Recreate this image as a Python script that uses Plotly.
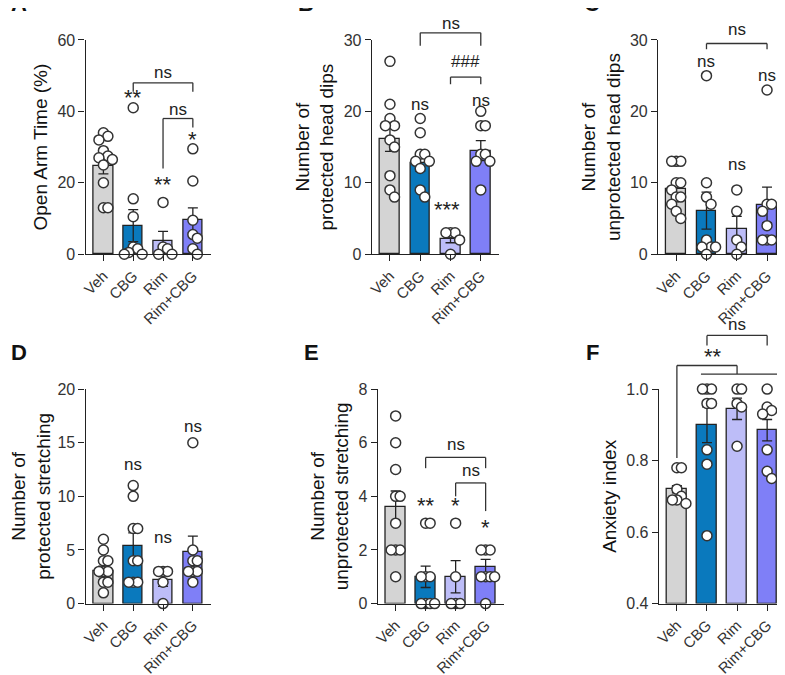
import plotly.graph_objects as go

groups = ["Veh", "CBG", "Rim", "Rim+CBG"]
colors = ["#d4d4d4", "#0a79bd", "#bdbdf8", "#7f7ff7"]

a_pts = [[34, 33, 32, 29, 27.5, 27, 26.5, 25, 20, 13, 13], [41, 15.5, 10.5, 2, 1.5, 0.5, 0, 0], [14.5, 2, 1.5, 0, 0], [29.5, 20.5, 9.5, 5.5, 4.5, 1.5, 0]]
a_mean = [24.7, 8.0, 3.6, 9.5]; a_sem = [2.2, 4.5, 2.8, 3.5]
b_pts = [[27, 21, 19, 18, 18, 16, 15, 11, 9, 8], [19, 17, 14, 14, 13, 13, 12, 9, 8], [3, 3, 3, 2, 0], [20, 18, 18, 14, 14, 13, 13, 9]]
b_mean = [16.2, 12.8, 2.2, 14.5]; b_sem = [1.8, 1.2, 0.6, 1.4]
c_pts = [[13, 13, 13, 10, 10, 9, 8, 8, 7, 6, 5], [25, 10, 8, 7, 2, 1, 1, 1, 0], [9, 6, 2, 1, 0], [23, 7, 7, 6, 4, 2, 2, 2]]
c_mean = [9.2, 6.1, 3.6, 6.9]; c_sem = [0.8, 2.6, 1.7, 2.5]
d_pts = [[6, 5, 4, 4, 3, 3, 3, 2, 2, 1], [11, 10, 7, 7, 4, 4, 2, 2, 2], [3, 3, 3, 2, 0], [15, 5, 4, 4, 3, 3, 3, 2]]
d_mean = [3.0, 5.4, 2.2, 4.8]; d_sem = [0.5, 1.2, 0.6, 1.5]
e_pts = [[7, 6, 5, 4, 4, 3, 2, 2, 2, 1], [3, 3, 1, 1, 1, 0, 0, 0, 0], [3, 1, 0, 0, 0], [2, 2, 2, 1, 1, 1, 1, 0]]
e_mean = [3.6, 1.0, 1.0, 1.35]; e_sem = [0.6, 0.4, 0.6, 0.3]
f_pts = [[0.78, 0.78, 0.72, 0.70, 0.69, 0.69, 0.68], [1.0, 1.0, 1.0, 0.96, 0.96, 0.83, 0.79, 0.59], [1.0, 1.0, 0.96, 0.95, 0.84], [1.0, 0.95, 0.94, 0.93, 0.83, 0.77, 0.75]]
f_mean = [0.72, 0.90, 0.945, 0.885]; f_sem = [0.01, 0.05, 0.03, 0.03]

TOP = [0.638, 0.9636]
BOT = [0.107, 0.433]
panels = [
    dict(L="A", pts=a_pts, m=a_mean, s=a_sem, rng=[0, 60], dt=20, title="Open Arm Time (%)", dom=([0.093, 0.2535], TOP)),
    dict(L="B", pts=b_pts, m=b_mean, s=b_sem, rng=[0, 30], dt=10, title="Number of<br>protected head dips", dom=([0.460, 0.623], TOP)),
    dict(L="C", pts=c_pts, m=c_mean, s=c_sem, rng=[0, 30], dt=10, title="Number of<br>unprotected head dips", dom=([0.827, 0.990], TOP)),
    dict(L="D", pts=d_pts, m=d_mean, s=d_sem, rng=[0, 20], dt=5, title="Number of<br>protected stretching", dom=([0.093, 0.2535], BOT)),
    dict(L="E", pts=e_pts, m=e_mean, s=e_sem, rng=[0, 8], dt=2, title="Number of<br>unprotected stretching", dom=([0.4675, 0.629], BOT)),
    dict(L="F", pts=f_pts, m=f_mean, s=f_sem, rng=[0.4, 1.0], dt=0.2, title="Anxiety index", dom=([0.828, 0.990], BOT)),
]

sig_text = {
    "A": [("ns", 2, 51), ("**", 1, 44), ("ns", 2.5, 40.5), ("**", 2, 19.5), ("*", 3, 32)],
    "B": [("ns", 2, 32.3), ("###", 2.5, 27), ("ns", 1, 21), ("ns", 3, 21.5), ("***", 1.9, 6.3)],
    "C": [("ns", 2, 31.5), ("ns", 1, 27), ("ns", 3, 25), ("ns", 2, 12.5)],
    "D": [("ns", 1, 13), ("ns", 2, 6.2), ("ns", 3, 16.5)],
    "E": [("ns", 2, 5.95), ("ns", 2.5, 4.95), ("**", 1, 3.65), ("*", 2, 3.65), ("*", 3, 2.85)],
    "F": [("**", 1.2, 1.09), ("ns", 2, 1.18)],
}
brackets = {
    "A": [(1, 3, 48, 45.5, 45.5), (2, 3, 38, 24, 35.5)],
    "B": [(1, 3, 31, 29.2, 29.2), (2, 3, 24.8, 23.8, 23.8)],
    "C": [(1, 3, 29.5, 28.7, 28.7)],
    "D": [],
    "E": [(1, 3, 5.45, 5.05, 5.05), (2, 3, 4.5, 4.0, 3.45)],
    "F": [(0, 2, 1.066, 0.807, 1.066), (1, 3, 1.15, 1.122, 1.122)],
}
XR = [-0.6, 3.6]
FONT = "Arial, Liberation Sans"

def jitter(vals, span):
    thr = span * 0.045
    placed = []
    slots = [0, 0.15, -0.15, 0.3, -0.3, 0.45, -0.45]
    out = []
    for v in vals:
        used = {o for (pv, o) in placed if abs(pv - v) < thr}
        o = next(s for s in slots if s not in used)
        placed.append((v, o))
        out.append(o)
    return out

fig = go.Figure()
shapes = []
annotations = []
for i, p in enumerate(panels):
    n = "" if i == 0 else str(i + 1)
    xa, ya = "x" + n, "y" + n
    dx, dy = p["dom"]
    r0, r1 = p["rng"]
    px = lambda x: dx[0] + (x - XR[0]) / (XR[1] - XR[0]) * (dx[1] - dx[0])
    py = lambda y: dy[0] + (y - r0) / (r1 - r0) * (dy[1] - dy[0])
    fig.add_trace(go.Bar(x=list(range(4)), y=[m - r0 for m in p["m"]], base=r0, width=0.65,
                         marker=dict(color=colors, line=dict(color="#222", width=1.3)),
                         error_y=dict(type="data", array=p["s"], color="#222", thickness=1.3, width=5),
                         xaxis=xa, yaxis=ya, showlegend=False))
    span = r1 - r0
    xs, ys = [], []
    for g, vals in enumerate(p["pts"]):
        for o, v in zip(jitter(vals, span), vals):
            xs.append(g + o); ys.append(v)
    fig.add_trace(go.Scatter(x=xs, y=ys, mode="markers", cliponaxis=False,
                             marker=dict(symbol="circle", size=10, color="white", line=dict(color="#333", width=1.5)),
                             xaxis=xa, yaxis=ya, showlegend=False))
    ticks = []
    t = r0
    while t <= r1 + 1e-9:
        ticks.append(round(t, 2)); t += p["dt"]
    fig.layout["xaxis" + n] = dict(domain=dx, range=XR, anchor=ya, tickvals=list(range(4)),
                                   ticktext=groups, tickangle=-45, showline=True, linecolor="#222", linewidth=1.3,
                                   ticks="outside", ticklen=6, tickcolor="#222", showgrid=False, zeroline=False,
                                   tickfont=dict(family=FONT, size=15, color="#333"))
    fig.layout["yaxis" + n] = dict(domain=dy, range=p["rng"], anchor=xa, tickvals=ticks,
                                   ticktext=[("%.1f" % v) if p["dt"] < 1 else str(int(v)) for v in ticks],
                                   showline=True, linecolor="#222", linewidth=1.3, ticks="outside", ticklen=6,
                                   tickcolor="#222", showgrid=False, zeroline=False,
                                   tickfont=dict(family=FONT, size=16, color="#333"),
                                   title=dict(text=p["title"], font=dict(family=FONT, size=19, color="#111"), standoff=4))
    annotations.append(dict(text="<b>%s</b>" % p["L"], xref="paper", yref="paper", x=dx[0] - 0.085, y=dy[1] + 0.055,
                            xanchor="center", yanchor="middle", showarrow=False,
                            font=dict(family=FONT, size=22, color="#111")))
    for txt, x, y in sig_text[p["L"]]:
        fs = 22 if "*" in txt else 17
        annotations.append(dict(text=txt, xref="paper", yref="paper", x=px(x), y=py(y), showarrow=False,
                                xanchor="center", yanchor="middle", font=dict(family=FONT, size=fs, color="#222")))
    ln = dict(color="#333", width=1.3)
    segs = []
    for (bx0, bx1, by, l0, l1) in brackets[p["L"]]:
        segs += [(bx0, by, bx1, by), (bx0, by, bx0, l0), (bx1, by, bx1, l1)]
    if p["L"] == "F":
        segs += [(0.8, 1.042, 3.35, 1.042), (2, 1.042, 2, 1.066)]
    for (a0, b0, a1, b1) in segs:
        shapes.append(dict(type="line", xref="paper", yref="paper", x0=px(a0), x1=px(a1), y0=py(b0), y1=py(b1), line=ln))

fig.update_layout(width=785, height=675, margin=dict(l=0, r=0, t=0, b=0), paper_bgcolor="white",
                  plot_bgcolor="white", shapes=shapes, annotations=annotations, bargap=0)
fig.write_html("out.html")
